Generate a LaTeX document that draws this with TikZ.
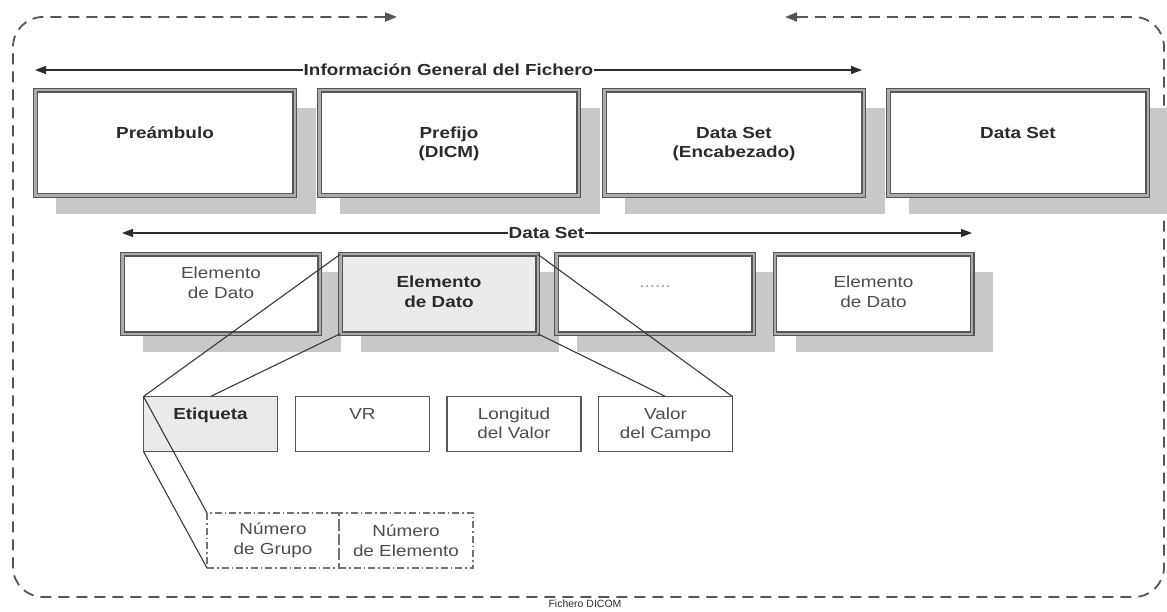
\documentclass[tikz,border=0pt]{standalone}
\usepackage{fontspec}
\setmainfont{Liberation Sans}[FakeStretch=1.18]
\newfontfamily\captionfont{Liberation Sans}
\usetikzlibrary{arrows.meta,calc,shadows}

\definecolor{edge}{HTML}{555555}
\definecolor{midline}{HTML}{ABABAB}
\definecolor{shade}{HTML}{C8C8C8}
\definecolor{hilite}{HTML}{EBEBEB}
\definecolor{ink}{HTML}{2B2B2B}
\definecolor{softink}{HTML}{4D4D4D}
\definecolor{wirecol}{HTML}{3A3A3A}
\definecolor{dotcol}{HTML}{9A9A9A}

% strut that fixes the first baseline of a label
\newcommand\firstline{\rule{0pt}{16pt}}

\begin{document}
\begin{tikzpicture}[x=1pt,y=-1pt,
  every node/.style={inner sep=0pt, outer sep=0pt},
  framebox/.style={draw=edge, line width=1.1pt, double=midline, double distance=2.4pt, fill=white,
    drop shadow={shadow xshift=21pt, shadow yshift=-18pt, fill=shade, opacity=1}},
  headbox/.style={framebox, minimum width=259.4pt, minimum height=105.4pt},
  elembox/.style={framebox, minimum width=197.4pt, minimum height=79.4pt},
  fieldbox/.style={draw=edge, line width=1.2pt, fill=white, minimum width=134pt, minimum height=55pt},
  subbox/.style={draw=black!55, line width=1.2pt, dash pattern=on 7pt off 3pt on 1.5pt off 3pt,
    minimum height=55pt, align=center, font=\fontsize{16}{19.5}\selectfont, text=softink},
  boldtxt/.style={anchor=north, align=center, font=\bfseries\fontsize{16}{19.5}\selectfont, text=ink},
  plaintxt/.style={anchor=north, align=center, font=\fontsize{16}{19.5}\selectfont, text=softink},
  span/.style={draw=ink, line width=1.3pt,
    {Triangle[length=11pt,width=8pt]}-{Triangle[length=11pt,width=8pt]}},
  spanlabel/.style={fill=white, inner xsep=1pt, inner ysep=2pt,
    font=\bfseries\fontsize{16}{19.5}\selectfont, text=ink},
  wire/.style={draw=wirecol, line width=1.1pt},
  filebound/.style={draw=edge, line width=1.8pt, dash pattern=on 11pt off 7pt, rounded corners=30pt,
    {Triangle[length=12pt,width=9pt]}-{Triangle[length=12pt,width=9pt]}}
]
\useasboundingbox (0,0) rectangle (1167,612);

% outer file boundary
\coordinate (fb-start) at (397,17);
\coordinate (fb-nw) at (13,17);
\coordinate (fb-sw) at (13,597);
\coordinate (fb-se) at (1164,597);
\coordinate (fb-ne) at (1164,17);
\coordinate (fb-end) at (785,17);
\draw[filebound] (fb-start) -- (fb-nw) -- (fb-sw) -- (fb-se) -- (fb-ne) -- (fb-end);
\node[font=\captionfont\fontsize{10.5}{12}\selectfont, text=ink] (fname) at (585,604) {Fichero DICOM};

% general file information span
\coordinate (ig-l) at (35,70);
\coordinate (ig-r) at (862,70);
\draw[span] (ig-l) -- (ig-r);
\node[spanlabel] (iglab) at (448.5,70) {Información General del Fichero};

% top level parts
\node[headbox] (pre) at (165,143) {};
\node[headbox] (pfx) at (449,143) {};
\node[headbox] (dsh) at (734,143) {};
\node[headbox] (dsb) at (1018,143) {};
\node[boldtxt] (pret) at ($(pre.north)+(0,32)$) {\firstline Preámbulo};
\node[boldtxt] (pfxt) at ($(pfx.north)+(0,32)$) {\firstline Prefijo\\(DICM)};
\node[boldtxt] (dsht) at ($(dsh.north)+(0,32)$) {\firstline Data Set\\(Encabezado)};
\node[boldtxt] (dsbt) at ($(dsb.north)+(0,32)$) {\firstline Data Set};

% data set span
\coordinate (ds-l) at (122,233);
\coordinate (ds-r) at (972,233);
\draw[span] (ds-l) -- (ds-r);
\node[spanlabel] (dslab) at (546.5,233) {Data Set};

% data elements
\node[elembox] (ea) at (221,294) {};
\node[elembox, fill=hilite] (eb) at (439,294) {};
\node[elembox] (ec) at (655,294) {};
\node[elembox] (ed) at (873.5,294) {};
\node[plaintxt] (eat) at ($(ea.north)+(0,8.5)$) {\firstline Elemento\\de Dato};
\node[boldtxt] (ebt) at ($(eb.north)+(0,17.5)$) {\firstline Elemento\\de Dato};
\node[anchor=base, font=\fontsize{16}{19.5}\selectfont, text=dotcol] (ect) at (655,288) {......};
\node[plaintxt] (edt) at ($(ed.north)+(0,17.5)$) {\firstline Elemento\\de Dato};

% fields of one data element
\node[fieldbox, fill=hilite] (eti) at (210.5,424) {};
\node[fieldbox] (vr) at (362.5,424) {};
\node[fieldbox] (lon) at (514,424) {};
\node[fieldbox] (val) at (665.5,424) {};
\node[boldtxt] (etit) at ($(eti.north)+(0,6.5)$) {\firstline Etiqueta};
\node[plaintxt] (vrt) at ($(vr.north)+(0,6.5)$) {\firstline VR};
\node[plaintxt] (lont) at ($(lon.north)+(0,6.5)$) {\firstline Longitud\\del Valor};
\node[plaintxt] (valt) at ($(val.north)+(0,6.5)$) {\firstline Valor\\del Campo};

% parts of the tag
\node[subbox, minimum width=132pt] (grp) at (273,540.5) {Número\\de Grupo};
\node[subbox, minimum width=134pt] (elm) at (406,540.5) {Número\\de Elemento};

% zoom lines
\draw[wire] (eb.north west) -- (eti.north west);
\draw[wire] (eb.south west) -- (eti.north);
\draw[wire] (eb.north east) -- (val.north east);
\draw[wire] (eb.south east) -- (val.north);
\draw[wire] (eti.north west) -- (grp.north west);
\draw[wire] (eti.south west) -- (grp.south west);
\end{tikzpicture}
\end{document}
